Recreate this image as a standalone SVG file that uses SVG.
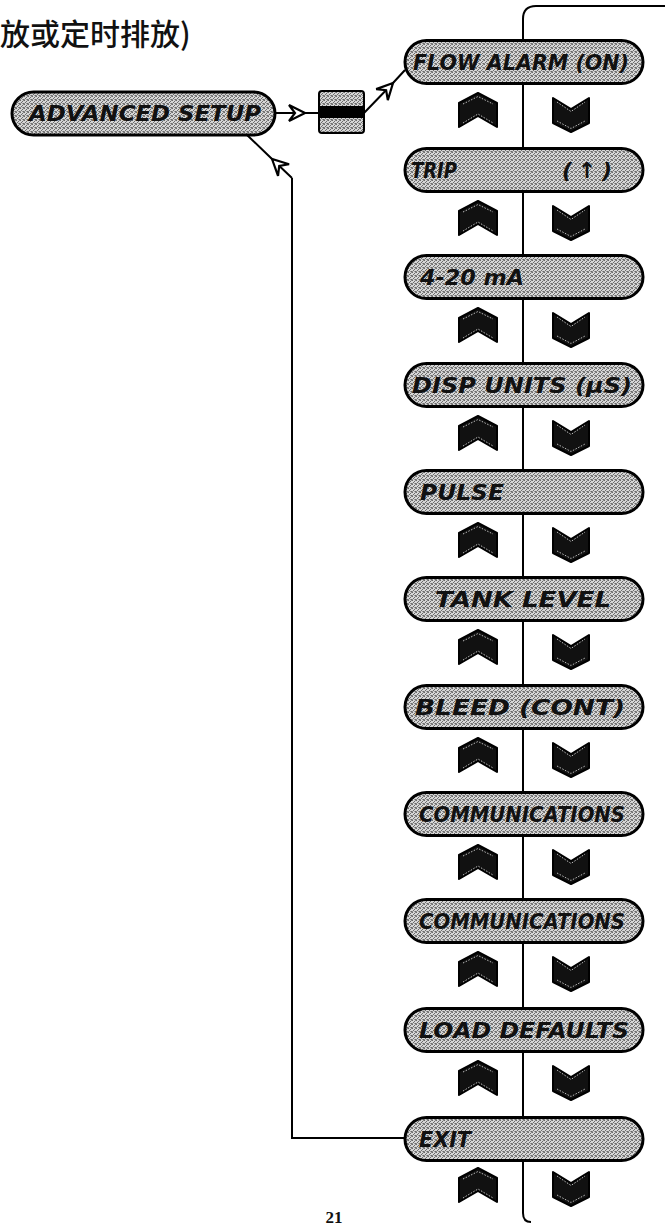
<svg xmlns="http://www.w3.org/2000/svg" width="665" height="1225" viewBox="0 0 665 1225">
<defs>
<pattern id="stip" width="4" height="4" patternUnits="userSpaceOnUse">
<rect width="4" height="4" fill="#d6d6d6"/>
<rect x="0" y="0" width="1" height="1" fill="#6a6a6a"/>
<rect x="2" y="1" width="1" height="1" fill="#6a6a6a"/>
<rect x="3" y="3" width="1" height="1" fill="#6a6a6a"/>
<rect x="1" y="2" width="1" height="1" fill="#6a6a6a"/>
<rect x="3" y="0" width="1" height="1" fill="#8a8a8a"/>
<rect x="0" y="3" width="1" height="1" fill="#8a8a8a"/>
<rect x="2" y="3" width="1" height="1" fill="#9a9a9a"/>
</pattern>
<marker id="arr" viewBox="-18 -10 20 20" markerWidth="20" markerHeight="20" refX="0" refY="0" orient="auto" markerUnits="userSpaceOnUse">
<path d="M0,0 L-16,-8 L-10,0 L-16,8 Z" fill="#fff" stroke="#000" stroke-width="2.2" stroke-linejoin="miter"/>
</marker>
<g id="up">
<path d="M1,11 L20,1 L39,11 L39,35 L20,24 L1,35 Z" fill="#111" stroke="#000" stroke-width="2" stroke-linejoin="round"/>
<path d="M5,12 L20,4.5 L35,12" fill="none" stroke="#bbb" stroke-width="1" stroke-dasharray="1.5 1.5"/>
<path d="M5,31 L20,22 L35,31" fill="none" stroke="#bbb" stroke-width="1" stroke-dasharray="1.5 1.5"/>
</g>
<g id="down">
<path d="M1,1 L19,12 L37,1 L37,26 L19,35 L1,26 Z" fill="#111" stroke="#000" stroke-width="2" stroke-linejoin="round"/>
<path d="M5,5 L19,14.5 L33,5" fill="none" stroke="#bbb" stroke-width="1" stroke-dasharray="1.5 1.5"/>
<path d="M5,24 L19,31.5 L33,24" fill="none" stroke="#bbb" stroke-width="1" stroke-dasharray="1.5 1.5"/>
</g>
</defs>
<style>
.pill{fill:url(#stip);stroke:#000;stroke-width:3}
.lcd{font-family:"DejaVu Sans","Liberation Sans",sans-serif;font-weight:bold;font-style:italic;font-size:22px;fill:#111}
.ln{fill:none;stroke:#000;stroke-width:2}
</style>
<rect width="665" height="1225" fill="#fff"/>
<text x="0" y="45" font-family="'Noto Sans CJK SC',sans-serif" font-weight="500" font-size="30" fill="#111">放或定时排放)</text>
<g id="connectors">
<path class="ln" d="M665,6 L536,6 Q523,6 523,19 L523,1213 Q523,1222 531,1222"/>
<path class="ln" d="M275,113 L305,113 L319,113" marker-mid="url(#arr)"/>
<path class="ln" d="M364,113 L393,83 L405,70" marker-mid="url(#arr)"/>
<path class="ln" d="M405,1138 L292,1138 L292,178"/>
<path class="ln" d="M292,178 L272,159 L246,134" marker-mid="url(#arr)"/>
</g>
<g id="advanced-setup">
<rect class="pill" x="12" y="92" width="263" height="43" rx="21.5"/>
<text class="lcd" x="29" y="121" textLength="232" lengthAdjust="spacingAndGlyphs">ADVANCED SETUP</text>
</g>
<g id="enter-key">
<rect x="319" y="91" width="45" height="42" rx="3" fill="url(#stip)" stroke="#000" stroke-width="2"/>
<rect x="319" y="106" width="45" height="12" fill="#000"/>
</g>
<g id="flow-alarm">
<rect class="pill" x="405" y="40.5" width="238" height="43" rx="21.5"/>
<text class="lcd" x="413" y="70" textLength="216" lengthAdjust="spacingAndGlyphs">FLOW ALARM (ON)</text>
<use href="#up" x="458" y="92"/><use href="#down" x="552" y="97"/>
</g>
<g id="trip">
<rect class="pill" x="405" y="148.5" width="238" height="43" rx="21.5"/>
<text class="lcd" y="178"><tspan x="411" textLength="46" lengthAdjust="spacingAndGlyphs">TRIP</tspan><tspan x="562" textLength="50" lengthAdjust="spacing">(↑)</tspan></text>
<use href="#up" x="458" y="200"/><use href="#down" x="552" y="205"/>
</g>
<g id="ma">
<rect class="pill" x="405" y="255.5" width="238" height="43" rx="21.5"/>
<text class="lcd" x="420" y="285" textLength="104" lengthAdjust="spacingAndGlyphs">4-20 mA</text>
<use href="#up" x="458" y="307"/><use href="#down" x="552" y="312"/>
</g>
<g id="disp-units">
<rect class="pill" x="405" y="363.5" width="238" height="43" rx="21.5"/>
<text class="lcd" x="412" y="393" textLength="220" lengthAdjust="spacingAndGlyphs">DISP UNITS (µS)</text>
<use href="#up" x="458" y="415"/><use href="#down" x="552" y="420"/>
</g>
<g id="pulse">
<rect class="pill" x="405" y="470.5" width="238" height="43" rx="21.5"/>
<text class="lcd" x="420" y="500" textLength="84" lengthAdjust="spacingAndGlyphs">PULSE</text>
<use href="#up" x="458" y="522"/><use href="#down" x="552" y="527"/>
</g>
<g id="tank-level">
<rect class="pill" x="405" y="577.5" width="238" height="43" rx="21.5"/>
<text class="lcd" x="435" y="607" textLength="176" lengthAdjust="spacingAndGlyphs">TANK  LEVEL</text>
<use href="#up" x="458" y="629"/><use href="#down" x="552" y="634"/>
</g>
<g id="bleed">
<rect class="pill" x="405" y="685.5" width="238" height="43" rx="21.5"/>
<text class="lcd" x="415" y="715" textLength="210" lengthAdjust="spacingAndGlyphs">BLEED (CONT)</text>
<use href="#up" x="458" y="737"/><use href="#down" x="552" y="742"/>
</g>
<g id="communications-1">
<rect class="pill" x="405" y="792.5" width="238" height="43" rx="21.5"/>
<text class="lcd" x="419" y="822" textLength="206" lengthAdjust="spacingAndGlyphs">COMMUNICATIONS</text>
<use href="#up" x="458" y="844"/><use href="#down" x="552" y="849"/>
</g>
<g id="communications-2">
<rect class="pill" x="405" y="899.5" width="238" height="43" rx="21.5"/>
<text class="lcd" x="419" y="929" textLength="206" lengthAdjust="spacingAndGlyphs">COMMUNICATIONS</text>
<use href="#up" x="458" y="951"/><use href="#down" x="552" y="956"/>
</g>
<g id="load-defaults">
<rect class="pill" x="405" y="1008.5" width="238" height="43" rx="21.5"/>
<text class="lcd" x="419" y="1038" textLength="210" lengthAdjust="spacingAndGlyphs">LOAD DEFAULTS</text>
<use href="#up" x="458" y="1060"/><use href="#down" x="552" y="1065"/>
</g>
<g id="exit">
<rect class="pill" x="405" y="1117.5" width="238" height="43" rx="21.5"/>
<text class="lcd" x="419" y="1147" textLength="52" lengthAdjust="spacingAndGlyphs">EXIT</text>
<use href="#up" x="458" y="1167"/><use href="#down" x="552" y="1171"/>
</g>
<text x="334" y="1223" text-anchor="middle" font-family="'Liberation Serif',serif" font-weight="bold" font-size="17" fill="#111">21</text>
</svg>
